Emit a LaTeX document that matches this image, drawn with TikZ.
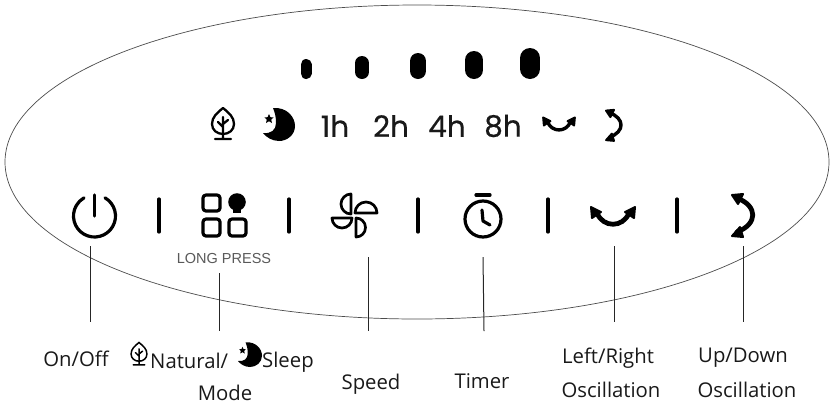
\documentclass[tikz,border=0pt]{standalone}
\usepackage{fontspec}
\setmainfont{Open Sans}
\newfontfamily\digitfont[FakeBold=0.5]{Poppins}
\newfontfamily\pressfont{Liberation Sans}
\usetikzlibrary{positioning, arrows.meta}
\tikzset{panel/.style={draw=black!70, line width=0.7pt}}
\tikzset{level/.style={line cap=round}}
\tikzset{hours/.style={font=\digitfont\fontsize{29.5}{29.5}\selectfont, inner sep=0pt, text=black!90}}
\tikzset{caption/.style={font=\fontsize{20.3}{22}\selectfont, inner sep=0pt, text=black!90}}
\tikzset{divider/.style={line width=3.2pt, line cap=round}}
\tikzset{leader/.style={line width=1pt, black!85}}
\tikzset{icon/.style={line width=3.2pt, line cap=round, line join=round}}
\tikzset{leaf/.pic={
  \draw (0,-16) .. controls (-6,-11) and (-11,-7) .. (-11,0) .. controls (-11,6) and (-6,10) .. (0,10) .. controls (6,10) and (11,6) .. (11,0) .. controls (11,-7) and (6,-11) .. (0,-16) -- cycle;
  \draw (0,-7) -- (0,15) (-8,15) -- (8,15) (-5,-2) -- (0,3) (5,-4) -- (0,0);
}}
\tikzset{moon/.pic={
  \fill (-6,-17) .. controls (8,-18) and (16,-8) .. (16,1) .. controls (16,10) and (8,16) .. (0,16) .. controls (-7,16) and (-13,12) .. (-16,8) .. controls (-8,9) and (-3,5) .. (-3,-2) .. controls (-3,-8) and (-4,-12) .. (-6,-17) -- cycle;
  \fill (-10,-11) -- (-8.6,-7.8) -- (-5.4,-7.6) -- (-7.8,-5.4) -- (-7,-2) -- (-10,-3.8) -- (-13,-2) -- (-12.2,-5.4) -- (-14.6,-7.6) -- (-11.4,-7.8) -- cycle;
}}
\tikzset{swing/.pic={
  \draw (-16,-3) .. controls (-10,12) and (10,12) .. (16,-3);
  \filldraw[line width=2pt] (-22,-9) -- (-12,-4) -- (-21,2) -- cycle;
  \filldraw[line width=2pt] (22,-9) -- (12,-4) -- (21,2) -- cycle;
}}
\tikzset{tilt/.pic={
  \draw (-6,-17) .. controls (15,-9) and (15,9) .. (-6,17);
  \filldraw[line width=2pt] (-11,-20) -- (0,-21) -- (-5,-11) -- cycle;
  \filldraw[line width=2pt] (-11,21) -- (0,22) -- (-3,12) -- cycle;
}}
\begin{document}
\begin{tikzpicture}[x=1pt, y=-1pt]
\useasboundingbox (0,0) rectangle (832,405);
\draw[panel] (417,162) ellipse [x radius=412, y radius=157];

\draw[level, line width=11pt] (306,64.5) -- (306,73.5);
\draw[level, line width=14pt] (362,63) -- (362,72);
\draw[level, line width=16pt] (418,61) -- (418,71);
\draw[level, line width=18pt] (474,60) -- (474,70);
\draw[level, line width=20pt] (530,58) -- (530,69);

\pic[icon, line width=2.3pt] at (223,124) {leaf};
\pic at (279,125) {moon};
\node[hours] (oneh) at (335,126) {1h};
\node[hours] (twoh) at (391,126) {2h};
\node[hours] (fourh) at (447,126) {4h};
\node[hours] (eighth) at (503,126) {8h};
\pic[icon, scale=0.72, line width=3.4pt] at (559,124) {swing};
\pic[icon, scale=0.72, line width=3.4pt] at (614,125) {tilt};

\draw[icon] (94.5,216) ++(-60:21) arc [start angle=-60, end angle=240, radius=21];
\draw[icon] (94.5,195) -- (94.5,216);

\draw[divider] (159,199) -- (159,232);
\draw[divider] (289,199) -- (289,232);
\draw[divider] (418,199) -- (418,232);
\draw[divider] (548,199) -- (548,232);
\draw[divider] (677,199) -- (677,232);

\draw[icon, rounded corners=3pt] (203,195) rectangle (220,211);
\draw[icon, rounded corners=3pt] (203,219) rectangle (220,236);
\draw[icon, rounded corners=3pt] (229,219) rectangle (246,236);
\fill (237,202) circle [radius=8.8];
\fill (233,208) rectangle (241,213);

\node[font=\pressfont\fontsize{14.5}{14.5}\selectfont, text=black!65, inner sep=0pt] (longpress) at (224,259) {LONG PRESS};

\draw[icon, line width=2.7pt] (351,194) arc [start angle=-90, end angle=-270, radius=10] -- cycle;
\draw[icon, line width=2.7pt] (355,213) arc [start angle=180, end angle=360, radius=11] -- cycle;
\draw[icon, line width=2.7pt] (356,218) arc [start angle=-90, end angle=90, radius=9.5] -- cycle;
\draw[icon, line width=2.7pt] (332,218) arc [start angle=180, end angle=0, radius=10] -- cycle;

\draw[icon] (483,219) circle [radius=18];
\draw[icon] (476,195) -- (490,195);
\draw[icon] (482,210) -- (483,221) -- (490,225);

\pic[icon, line width=4.8pt] at (613,216) {swing};
\pic[icon, line width=4.8pt] at (743,215) {tilt};

\node[caption] (onoff) at (76,359) {On/Off};
\pic[line width=1.5pt, scale=0.72, line cap=round] at (139,354) {leaf};
\node[caption, anchor=west] (natural) at (150,361) {Natural/};
\pic[scale=0.75] at (250,355) {moon};
\node[caption, anchor=west] (sleep) at (262,362) {Sleep};
\node[caption] (mode) at (225,393) {Mode};
\node[caption] (speed) at (371,384) {Speed};
\node[caption] (timer) at (482,381) {Timer};
\node[caption] (leftright) at (608,358) {Left/Right};
\node[caption] (oscleft) at (611,390) {Oscillation};
\node[caption] (updown) at (743,358) {Up/Down};
\node[caption] (oscup) at (747,390) {Oscillation};

\coordinate (powerfoot) at (90,246);
\coordinate (modefoot) at (219,273);
\coordinate (fanfoot) at (368,257);
\coordinate (timerfoot) at (483,257);
\coordinate (swingfoot) at (614,246);
\coordinate (tiltfoot) at (743,246);
\coordinate (powerend) at (90,322);
\coordinate (modeend) at (219,331);
\coordinate (fanend) at (368,331);
\coordinate (timerend) at (484,331);
\coordinate (swingend) at (614,322);
\coordinate (tiltend) at (743,322);
\draw[leader] (powerfoot) -- (powerend);
\draw[leader] (modefoot) -- (modeend);
\draw[leader] (fanfoot) -- (fanend);
\draw[leader] (timerfoot) -- (timerend);
\draw[leader] (swingfoot) -- (swingend);
\draw[leader] (tiltfoot) -- (tiltend);
\end{tikzpicture}
\end{document}
